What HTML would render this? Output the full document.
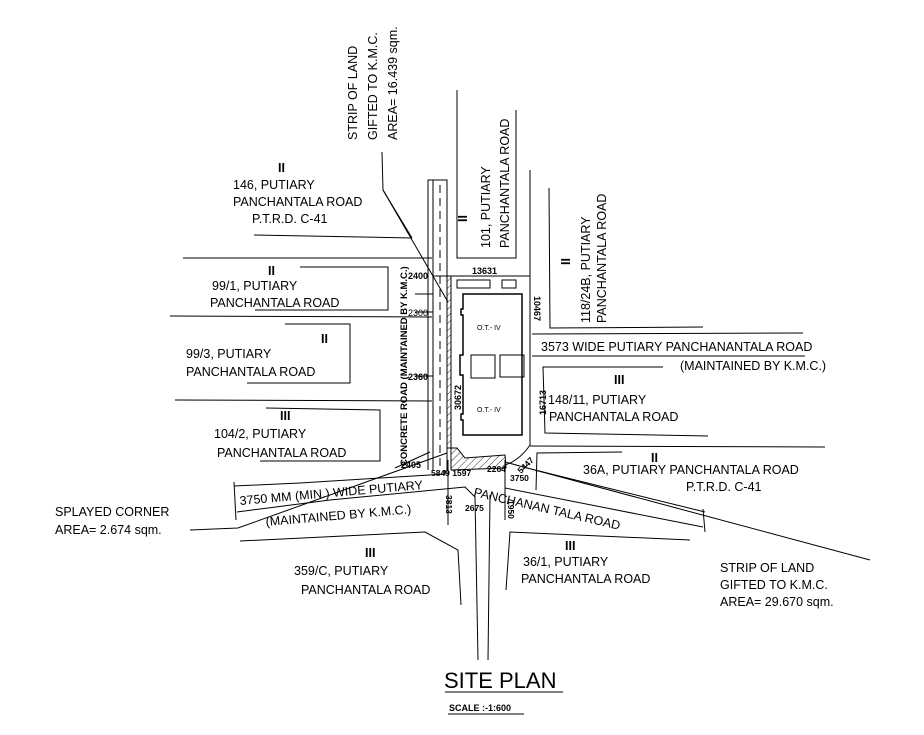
<!DOCTYPE html>
<html><head><style>body{margin:0;background:#fff}svg{display:block}text{font-family:"Liberation Sans",Arial,sans-serif;fill:#000}</style></head>
<body>
<svg width="924" height="735" viewBox="0 0 924 735" xmlns="http://www.w3.org/2000/svg" font-size="12.5">
<defs><pattern id="h" width="5" height="5" patternUnits="userSpaceOnUse" patternTransform="rotate(45)"><line x1="0" y1="0" x2="0" y2="5" stroke="#000" stroke-width="0.8"/></pattern></defs>
<g stroke="#000" stroke-width="1" fill="none">
<polyline points="382,152 383,190 412,238"/>
<line x1="254" y1="235" x2="412" y2="238"/>
<line x1="183" y1="258" x2="432" y2="258"/>
<polyline points="300,267 388,267 388,310 255,310"/>
<line x1="170" y1="316" x2="432" y2="317"/>
<polyline points="285,324 350,324 350,383 247,383"/>
<line x1="175" y1="400" x2="432" y2="401"/>
<polyline points="266,408 380,410 380,461 260,461"/>
<line x1="383" y1="190" x2="448" y2="302"/>
<polyline points="428,470 428,180 447,180 447,470"/>
<line x1="433" y1="180" x2="433" y2="470"/>
<line x1="440" y1="185" x2="440" y2="470" stroke-dasharray="8,5"/>
<line x1="415" y1="294" x2="433" y2="294"/>
<line x1="415" y1="312" x2="433" y2="312"/>
<line x1="415" y1="376" x2="433" y2="376"/>
<polyline points="457,90 457,258 516,258 516,110"/>
<polyline points="433,276 530,276"/>
<line x1="530" y1="170" x2="530" y2="445"/>
<path d="M530,445 Q520,460 505,465"/>
<rect x="447" y="276" width="4" height="172" fill="url(#h)"/>
<rect x="457" y="280" width="33" height="8"/>
<rect x="502" y="280" width="14" height="8"/>
<path d="M463,294 H522 V435 H463 V420 H461 V414 H463 V375 H460 V355 H463 V315 H461 V309 H463 Z" stroke-width="1.5"/>
<rect x="471" y="355" width="24" height="23"/>
<rect x="500" y="355" width="24" height="22"/>
<polygon points="451,448 457,448 465,458 505,455 506,468 451,470" fill="url(#h)"/>
<polyline points="549,188 550,328 703,327"/>
<line x1="532" y1="334" x2="803" y2="333"/>
<line x1="532" y1="356" x2="805" y2="356"/>
<polyline points="663,367 543,367 545,433 708,436"/>
<line x1="530" y1="446" x2="825" y2="447"/>
<polyline points="622,452 537,453 536,490"/>
<polyline points="234,486 300,483 445,474 445,470"/>
<polyline points="237,512 330,500 465,487 475,497 478,660"/>
<line x1="535" y1="470" x2="705" y2="512"/>
<line x1="505" y1="488" x2="703" y2="527"/>
<line x1="234" y1="482" x2="236" y2="520"/>
<line x1="703" y1="509" x2="705" y2="532"/>
<line x1="490" y1="495" x2="488" y2="660"/>
<polyline points="240,541 425,532 458,550 461,605"/>
<polyline points="690,540 510,532 506,590"/>
<line x1="448" y1="460" x2="448" y2="525"/>
<line x1="505" y1="460" x2="505" y2="520"/>
<polyline points="190,530 238,528 447,453"/>
<line x1="395" y1="468" x2="430" y2="452"/>
<line x1="870" y1="560" x2="505" y2="462"/>
<line x1="445" y1="692" x2="563" y2="692"/>
<line x1="448" y1="714" x2="524" y2="714"/>
</g>
<text transform="translate(357,140) rotate(-90)">STRIP OF LAND</text>
<text transform="translate(377,140) rotate(-90)">GIFTED TO K.M.C.</text>
<text transform="translate(397,140) rotate(-90)">AREA= 16.439 sqm.</text>
<text x="278" y="172" font-weight="bold">II</text>
<text x="233" y="189">146, PUTIARY</text>
<text x="233" y="206">PANCHANTALA ROAD</text>
<text x="252" y="223">P.T.R.D. C-41</text>
<text x="268" y="275" font-weight="bold">II</text>
<text x="212" y="290">99/1, PUTIARY</text>
<text x="210" y="307">PANCHANTALA ROAD</text>
<text x="321" y="343" font-weight="bold">II</text>
<text x="186" y="358">99/3, PUTIARY</text>
<text x="186" y="376">PANCHANTALA ROAD</text>
<text x="280" y="420" font-weight="bold">III</text>
<text x="214" y="438">104/2, PUTIARY</text>
<text x="217" y="457">PANCHANTALA ROAD</text>
<text transform="translate(407,466) rotate(-90)" font-size="9.5" font-weight="bold">CONCRETE ROAD (MAINTAINED BY K.M.C.)</text>
<text x="408" y="279" font-size="9" font-weight="bold">2400</text>
<text x="408" y="316" font-size="9">2300</text>
<text x="408" y="380" font-size="9" font-weight="bold">2360</text>
<text x="401" y="468" font-size="9" font-weight="bold">2405</text>
<text x="472" y="274" font-size="9" font-weight="bold">13631</text>
<text transform="translate(534,296) rotate(90)" font-size="9" font-weight="bold">10467</text>
<text transform="translate(461,410) rotate(-90)" font-size="9" font-weight="bold">30672</text>
<text transform="translate(546,415) rotate(-90)" font-size="9" font-weight="bold">16713</text>
<text x="477" y="330" font-size="7">O.T.- IV</text>
<text x="477" y="412" font-size="7">O.T.- IV</text>
<text x="431" y="476" font-size="8.5" font-weight="bold">5849 1597</text>
<text x="487" y="472" font-size="8.5" font-weight="bold">2264</text>
<text x="510" y="481" font-size="8.5" font-weight="bold">3750</text>
<text transform="translate(521,474) rotate(-45)" font-size="8.5" font-weight="bold">5447</text>
<text transform="translate(446,495) rotate(90)" font-size="8.5" font-weight="bold">3813</text>
<text x="465" y="511" font-size="8.5" font-weight="bold">2675</text>
<text transform="translate(508,500) rotate(90)" font-size="8.5" font-weight="bold">1950</text>
<text transform="translate(467,222) rotate(-90)" font-weight="bold">II</text>
<text transform="translate(490,248) rotate(-90)">101, PUTIARY</text>
<text transform="translate(509,248) rotate(-90)">PANCHANTALA ROAD</text>
<text transform="translate(570,265) rotate(-90)" font-weight="bold">II</text>
<text transform="translate(590,323) rotate(-90)">118/24B, PUTIARY</text>
<text transform="translate(606,323) rotate(-90)">PANCHANTALA ROAD</text>
<text x="541" y="351">3573 WIDE PUTIARY PANCHANANTALA ROAD</text>
<text x="680" y="370">(MAINTAINED BY K.M.C.)</text>
<text x="614" y="384" font-weight="bold">III</text>
<text x="548" y="404">148/11, PUTIARY</text>
<text x="549" y="421">PANCHANTALA ROAD</text>
<text x="651" y="462" font-weight="bold">II</text>
<text x="583" y="474">36A, PUTIARY PANCHANTALA ROAD</text>
<text x="686" y="491">P.T.R.D. C-41</text>
<text x="240" y="505" transform="rotate(-5 240 505)">3750 MM (MIN.) WIDE PUTIARY</text>
<text x="266" y="526" transform="rotate(-5 266 526)">(MAINTAINED BY K.M.C.)</text>
<text x="473" y="496" transform="rotate(13 473 496)">PANCHANAN TALA ROAD</text>
<text x="55" y="516">SPLAYED CORNER</text>
<text x="55" y="534">AREA= 2.674 sqm.</text>
<text x="365" y="557" font-weight="bold">III</text>
<text x="294" y="575">359/C, PUTIARY</text>
<text x="301" y="594">PANCHANTALA ROAD</text>
<text x="565" y="550" font-weight="bold">III</text>
<text x="523" y="566">36/1, PUTIARY</text>
<text x="521" y="583">PANCHANTALA ROAD</text>
<text x="720" y="572">STRIP OF LAND</text>
<text x="720" y="589">GIFTED TO K.M.C.</text>
<text x="720" y="606">AREA= 29.670 sqm.</text>
<text x="444" y="688" font-size="22">SITE PLAN</text>
<text x="449" y="711" font-size="9" font-weight="bold">SCALE :-1:600</text>
</svg>
</body></html>
